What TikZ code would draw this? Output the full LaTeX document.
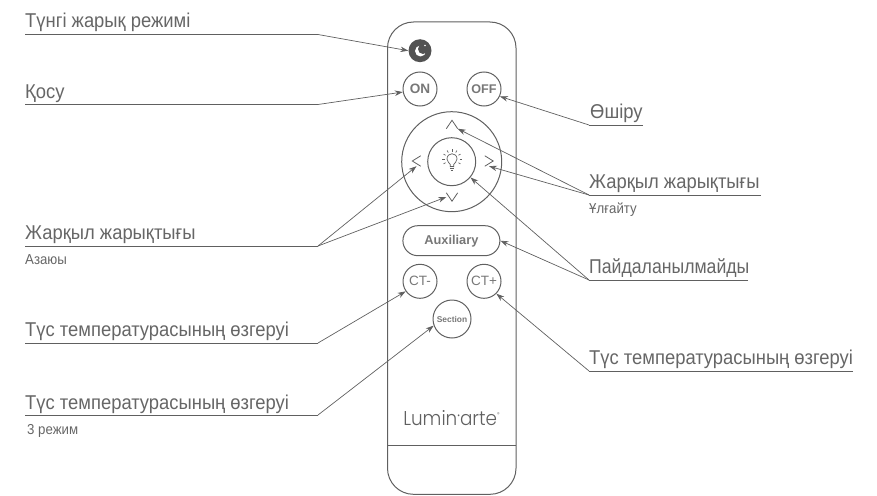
\documentclass[tikz,border=0pt]{standalone}
\usepackage{fontspec}
\setmainfont{Liberation Sans}
\newfontfamily\narrowfont[FakeStretch=0.92]{Liberation Sans}
\newfontfamily\logofont[UprightFont=* Light,FakeStretch=0.92]{Poppins}
\usetikzlibrary{arrows.meta}
\definecolor{ink}{HTML}{606060}
\definecolor{txt}{HTML}{666666}
\definecolor{lbl}{HTML}{777777}
\tikzset{
  x=1pt,y=-1pt,
  line/.style={draw=ink,line width=1pt},
  lead/.style={draw=ink,line width=0.7pt},
  under/.style={draw=ink,line width=1pt},
  arr/.style={lead,-{Stealth[length=8pt,width=5.5pt]}},
  btn/.style={circle,draw=ink,line width=1pt,inner sep=0pt,minimum size=#1},
  btnlabel/.style={text=lbl,font=\fontsize{#1}{#1}\selectfont\bfseries},
  big/.style={anchor=base west,inner sep=0pt,text=txt,font=\narrowfont\fontsize{20}{20}\selectfont},
  small/.style={anchor=base west,inner sep=0pt,text=txt,font=\narrowfont\fontsize{14.4}{14.4}\selectfont},
  chev/.style={inner sep=0pt,minimum width=#1,minimum height=8pt},
}
\begin{document}
\begin{tikzpicture}
\useasboundingbox (0,0) rectangle (877,495);
% body
\draw[line,rounded corners=26pt] (387.5,22) rectangle (516,494.3);
\coordinate (divl) at (387.5,445);
\coordinate (divr) at (516,445);
\draw[line,line width=0.9pt] (divl) -- (divr);
% buttons
\node[circle,fill=ink!85!black,minimum size=23pt,inner sep=0pt] (moon) at (420,50.7) {};
\fill[white] (420.5,51) circle[radius=5.5];
\fill[ink!85!black] (423,49) circle[radius=5];
\fill[white] (425,45.5) circle[radius=0.9];
\node[btn=34pt,btnlabel=13.6] (on) at (420,89) {ON};
\node[btn=34pt,btnlabel=12.6] (off) at (484,89) {OFF};
\node[btn=100pt] (ring) at (451.7,161.7) {};
\node[btn=48pt] (inner) at (451.7,161.7) {};
\node[draw=ink,line width=1pt,rounded corners=15pt,minimum width=97pt,minimum height=30pt,inner sep=0pt,btnlabel=12.8] (aux) at (451.4,240.7) {Auxiliary};
\node[btn=34pt,text=lbl,font=\fontsize{13.5}{13.5}\selectfont] (ctm) at (420,281.3) {CT-};
\node[btn=34pt,text=lbl,font=\fontsize{13.5}{13.5}\selectfont] (ctp) at (484,281.3) {CT+};
\node[btn=38pt,btnlabel=8.4] (sec) at (452,319) {Section};
% chevrons
\node[chev=11pt] (cup) at (452,124.5) {};
\draw[line,line width=0.8pt] (cup.south west) -- (cup.north) -- (cup.south east);
\node[chev=11pt] (cdown) at (452,197) {};
\draw[line,line width=0.8pt] (cdown.north west) -- (cdown.south) -- (cdown.north east);
\node[inner sep=0pt,minimum width=8pt,minimum height=10pt] (cleft) at (416.5,161) {};
\draw[line,line width=0.8pt] (cleft.north east) -- (cleft.west) -- (cleft.south east);
\node[inner sep=0pt,minimum width=8pt,minimum height=10pt] (cright) at (489,161) {};
\draw[line,line width=0.8pt] (cright.north west) -- (cright.east) -- (cright.south west);
% bulb
\begin{scope}[shift={(452,161)}]
\draw[ink,line width=0.7pt] (-1.8,6) -- (-1.8,3.4) .. controls (-2.4,1.8) and (-5,1) .. (-5,-2) .. controls (-5,-9) and (5,-9) .. (5,-2) .. controls (5,1) and (2.4,1.8) .. (1.8,3.4) -- (1.8,6);
\draw[ink,line width=1pt] (-2.2,5) -- (2.2,5) (-2.2,7) -- (2.2,7) (-1.4,9) -- (1.4,9);
\foreach \a in {150,180,210,240,270,300,330,0,30}
  \draw[ink,line width=0.7pt] ({7.5*cos(\a)},{-2+7.5*sin(\a)}) -- ({9.8*cos(\a)},{-2+9.8*sin(\a)});
\end{scope}
% logo
\node[inner sep=0pt,anchor=base,text=ink,font=\logofont\fontsize{20}{20}\selectfont] (logo) at (451.5,425) {Lumin\raisebox{6.5pt}{\fontsize{8}{8}\selectfont\textbullet}arte\raisebox{9pt}{\fontsize{5.5}{5.5}\selectfont\textregistered}};
% left labels
\node[big] (t1) at (25,28) {Түнгі жарық режимі};
\coordinate (s1) at (25,34.5); \coordinate (e1) at (318,34.5);
\draw[under] (s1) -- (e1);
\draw[arr] (e1) -- (moon.west);
\node[big] (t2) at (25,98) {Қосу};
\coordinate (s2) at (25,104.5); \coordinate (e2) at (318,104.5);
\draw[under] (s2) -- (e2);
\draw[arr] (e2) -- (on.190);
\node[big] (t3) at (25,239) {Жарқыл жарықтығы};
\node[small] (t3b) at (25,264) {Азаюы};
\coordinate (s3) at (25,246); \coordinate (e3) at (318,246);
\draw[under] (s3) -- (e3);
\draw[arr] (e3) -- (cleft.south);
\draw[arr] (e3) -- (cdown.west);
\node[big] (t4) at (25,336) {Түс температурасының өзгеруі};
\coordinate (s4) at (25,343); \coordinate (e4) at (318,343);
\draw[under] (s4) -- (e4);
\draw[arr] (e4) -- (ctm.215);
\node[big] (t5) at (25,409) {Түс температурасының өзгеруі};
\node[small] (t5b) at (27,434) {3 режим};
\coordinate (s5) at (25,415); \coordinate (e5) at (318,415);
\draw[under] (s5) -- (e5);
\draw[arr] (e5) -- (sec.200);
% right labels
\node[big] (r1) at (590,118) {Өшіру};
\coordinate (a1) at (589,125); \coordinate (b1) at (643,125);
\draw[under] (b1) -- (a1);
\draw[arr] (a1) -- (off.-25);
\node[big] (r2) at (589,188) {Жарқыл жарықтығы};
\node[small] (r2b) at (589,213) {Ұлғайту};
\coordinate (a2) at (589,195); \coordinate (b2) at (761,195);
\draw[under] (b2) -- (a2);
\draw[arr] (a2) -- (cup.south east);
\draw[arr] (a2) -- (cright.south);
\node[big,xscale=0.96,anchor=base west] (r3) at (589,273) {Пайдаланылмайды};
\coordinate (a3) at (589,280); \coordinate (b3) at (748,280);
\draw[under] (b3) -- (a3);
\draw[arr] (a3) -- (aux.east);
\draw[arr] (a3) -- (inner.-40);
\node[big] (r4) at (589,364) {Түс температурасының өзгеруі};
\coordinate (a4) at (589,371); \coordinate (b4) at (853,371);
\draw[under] (b4) -- (a4);
\draw[arr] (a4) -- (ctp.-45);
\end{tikzpicture}
\end{document}
